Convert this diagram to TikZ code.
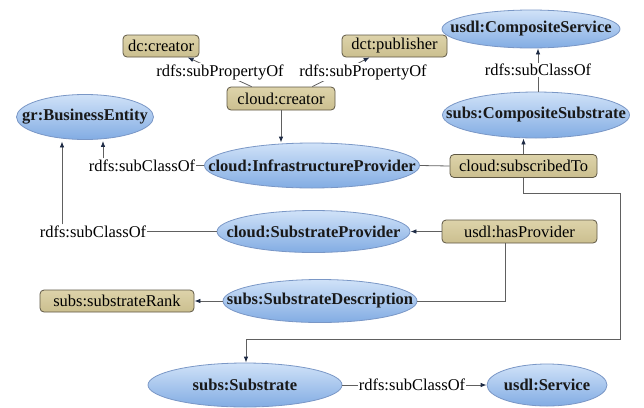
\documentclass[tikz,border=0pt]{standalone}
\usepackage{fontspec}
\setmainfont{Liberation Serif}
\usetikzlibrary{shapes.geometric,arrows.meta}
\definecolor{boxtop}{HTML}{DDD3AA}
\definecolor{boxbot}{HTML}{CBBF8F}
\definecolor{boxdraw}{HTML}{5E5744}
\definecolor{elltop}{HTML}{D0E2F8}
\definecolor{ellbot}{HTML}{82ACE3}
\definecolor{elldraw}{HTML}{7A97C6}
\definecolor{edgecol}{HTML}{606060}
\definecolor{tipcol}{HTML}{1E2B45}
\newcommand\elltxt[1]{\makebox[0pt]{\textbf{#1}}}
\begin{document}
\begin{tikzpicture}[x=1pt,y=-1pt,
 font=\fontsize{16.5}{19}\selectfont,
 ell/.style={ellipse, draw=elldraw, line width=0.8pt, top color=elltop, bottom color=ellbot, inner sep=0pt, text=black!90},
 box/.style={rectangle, rounded corners=4pt, draw=boxdraw, line width=0.8pt, top color=boxtop, bottom color=boxbot, inner sep=0pt},
 lbl/.style={fill=white, inner sep=1pt},
 con/.style={draw=edgecol, line width=0.8pt},
 arr/.style={con, -{Latex[length=6pt,width=4.5pt,color=tipcol]}}
]
\useasboundingbox (0,0) rectangle (644,407);

% boxes
\node[box, minimum width=76pt, minimum height=22pt] (dccreator) at (161,46) {dc:creator};
\node[box, minimum width=105pt, minimum height=22pt] (dctpub) at (394.5,46) {dct:publisher};
\node[box, minimum width=108pt, minimum height=23pt] (cloudcreator) at (281,98.5) {cloud:creator};
\node[box, minimum width=147pt, minimum height=23pt] (subscribed) at (523.5,166) {cloud:subscribedTo};
\node[box, minimum width=155pt, minimum height=23pt] (hasprov) at (519.5,231.5) {usdl:hasProvider};
\node[box, minimum width=154pt, minimum height=22pt] (rank) at (117,301) {subs:substrateRank};

% ellipses
\node[ell, minimum width=178pt, minimum height=38pt] (compservice) at (531,29) {\elltxt{usdl:CompositeService}};
\node[ell, minimum width=187pt, minimum height=46pt] (compsubstrate) at (536,115) {\elltxt{subs:CompositeSubstrate}};
\node[ell, minimum width=137pt, minimum height=45pt] (be) at (85,117) {\elltxt{gr:BusinessEntity}};
\node[ell, minimum width=215pt, minimum height=45pt] (infra) at (312,165.5) {\elltxt{cloud:InfrastructureProvider}};
\node[ell, minimum width=193pt, minimum height=42pt] (subprov) at (313.5,231.5) {\elltxt{cloud:SubstrateProvider}};
\node[ell, minimum width=194pt, minimum height=43pt] (desc) at (320,301) {\elltxt{subs:SubstrateDescription}};
\node[ell, minimum width=194pt, minimum height=44pt] (substrate) at (245,385) {\elltxt{subs:Substrate}};
\node[ell, minimum width=120pt, minimum height=42pt] (service) at (547,385) {\elltxt{usdl:Service}};

\coordinate (r1) at (620,193);
\coordinate (r2) at (620,339);

% connectors
\draw[arr] ([xshift=25pt]cloudcreator.north west) -- ([xshift=65pt]dccreator.south west);
\draw[arr] ([xshift=-23pt]cloudcreator.north east) -- ([xshift=28pt]dctpub.south west);
\draw[arr] (cloudcreator.south) -- (cloudcreator.south |- infra.north);
\draw[con] (infra.east) -- (subscribed.west);
\draw[arr] (subscribed.north) -- (subscribed.north |- compsubstrate.south);
\draw[arr] ([xshift=2pt]compsubstrate.north) -- ([xshift=2pt]compsubstrate.north |- compservice.south);
\draw[arr] (subscribed.south) |- (r1) -- (r2) -| ([xshift=1pt]substrate.north);
\draw[arr] (hasprov.west) -- (subprov.east);
\draw[con] ([xshift=-14.5pt]hasprov.south) |- (desc.east);
\draw[arr] (desc.west) -- (rank.east);

% labels
\node[lbl] (lsp1) at (220,72) {rdfs:subPropertyOf};
\node[lbl] (lsp2) at (363,72) {rdfs:subPropertyOf};
\node[lbl] (lsc0) at (538,70) {rdfs:subClassOf};
\node[lbl] (lsc1) at (142,165.5) {rdfs:subClassOf};
\node[lbl] (lsc2) at (93,231.5) {rdfs:subClassOf};
\node[lbl] (lsc3) at (412,385) {rdfs:subClassOf};

\draw[con] (infra.west) -- (lsc1.east);
\draw[arr] ([xshift=18pt]be.south |- lsc1.north) -- ([xshift=18pt,yshift=-1pt]be.south);
\draw[con] (subprov.west) -- (lsc2.east);
\draw[arr] ([xshift=-23pt]be.south |- lsc2.north) -- ([xshift=-23pt,yshift=-1.5pt]be.south);
\draw[con] (substrate.east) -- (lsc3.west);
\draw[arr] (lsc3.east) -- (service.west);
\end{tikzpicture}
\end{document}
